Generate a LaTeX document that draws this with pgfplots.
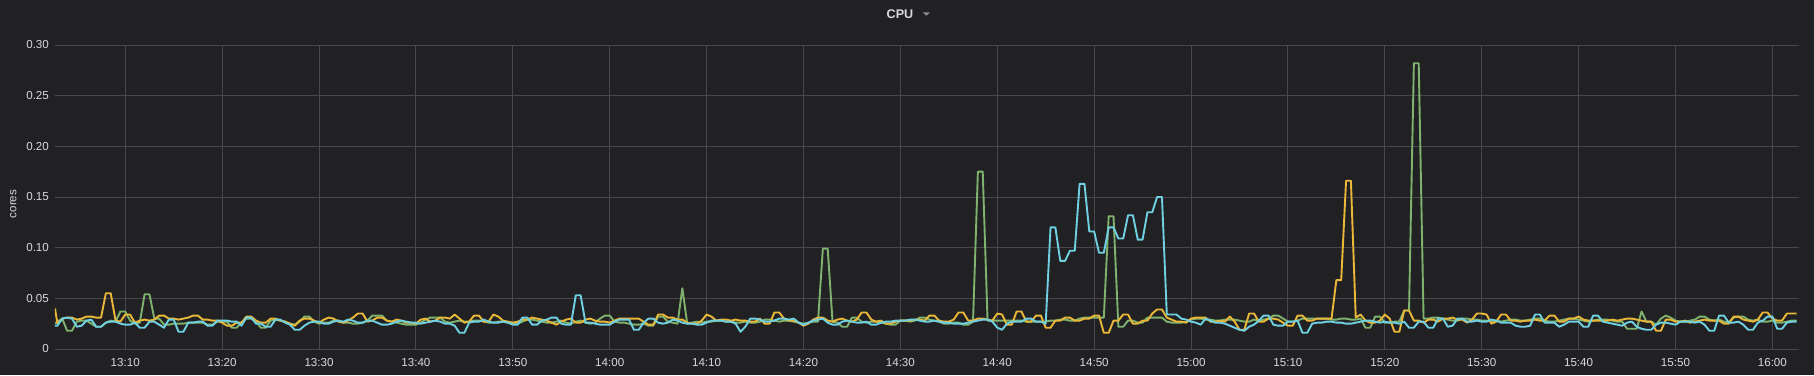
\documentclass[border=0pt]{standalone}
\usepackage{fontspec}
\setmainfont{Liberation Sans}
\usepackage{pgfplots}
\usepackage{pgfplotstable}
\pgfplotsset{compat=1.18}
\definecolor{bg}{RGB}{33,33,36}
\definecolor{gridc}{RGB}{72,72,76}
\definecolor{txt}{RGB}{216,217,218}
\definecolor{arrowc}{RGB}{142,142,142}
\definecolor{cg}{HTML}{7EB26D}
\definecolor{cy}{HTML}{EAB839}
\definecolor{cb}{HTML}{6ED0E0}

% t = minutes after 13:00; g = green, y = yellow, b = blue series (cores)
\pgfplotstableread{
t g y b
2.75 .025 .040 .023
3.0 .027 .025 .023
3.5 .030 .030 .030
4.0 .018 .031 .031
4.5 .018 .031 .030
5.0 .027 .029 .022
5.5 .028 .030 .023
6.0 .028 .032 .028
6.5 .025 .032 .029
7.0 .022 .031 .022
7.5 .022 .031 .022
8.0 .026 .055 .026
8.5 .028 .055 .027
9.0 .027 .028 .027
9.5 .037 .027 .025
10.0 .037 .034 .024
10.5 .028 .034 .024
11.0 .025 .026 .026
11.5 .026 .028 .021
12.0 .054 .029 .021
12.5 .054 .028 .027
13.0 .030 .029 .027
13.5 .030 .033 .024
14.0 .024 .033 .021
14.5 .024 .030 .029
15.0 .025 .030 .029
15.5 .025 .029 .017
16.0 .025 .030 .017
16.5 .026 .031 .026
17.0 .026 .033 .026
17.5 .026 .033 .027
18.0 .026 .029 .027
18.5 .024 .029 .023
19.0 .024 .028 .023
19.5 .027 .028 .028
20.0 .027 .026 .028
20.5 .027 .023 .028
21.0 .021 .023 .027
21.5 .021 .026 .027
22.0 .026 .026 .023
22.5 .030 .032 .031
23.0 .030 .032 .031
23.5 .027 .028 .025
24.0 .021 .026 .025
24.5 .021 .026 .022
25.0 .028 .030 .022
25.5 .029 .030 .029
26.0 .028 .028 .029
26.5 .027 .027 .026
27.0 .025 .025 .024
27.5 .024 .023 .019
28.0 .027 .028 .019
28.5 .032 .030 .023
29.0 .032 .030 .026
29.5 .027 .028 .027
30.0 .025 .026 .027
30.5 .026 .029 .025
31.0 .026 .031 .025
31.5 .028 .030 .027
32.0 .028 .027 .028
32.5 .026 .026 .027
33.0 .026 .028 .029
33.5 .025 .031 .028
34.0 .025 .035 .026
34.5 .026 .035 .026
35.0 .028 .027 .028
35.5 .033 .028 .028
36.0 .033 .031 .026
36.5 .033 .031 .024
37.0 .028 .028 .024
37.5 .027 .027 .025
38.0 .026 .029 .027
38.5 .025 .028 .028
39.0 .024 .026 .027
39.5 .024 .026 .026
40.0 .024 .025 .026
40.5 .026 .029 .025
41.0 .029 .030 .026
41.5 .031 .027 .027
42.0 .031 .028 .028
42.5 .031 .031 .027
43.0 .027 .031 .025
43.5 .026 .030 .025
44.0 .027 .034 .023
44.5 .028 .030 .016
45.0 .027 .026 .016
45.5 .027 .027 .026
46.0 .028 .033 .027
46.5 .028 .033 .027
47.0 .027 .027 .029
47.5 .026 .027 .027
48.0 .026 .034 .026
48.5 .027 .032 .026
49.0 .027 .028 .027
49.5 .026 .027 .026
50.0 .025 .026 .024
50.5 .025 .027 .024
51.0 .027 .029 .031
51.5 .029 .029 .031
52.0 .029 .031 .024
52.5 .028 .030 .024
53.0 .027 .029 .028
53.5 .026 .028 .029
54.0 .026 .026 .031
54.5 .027 .024 .031
55.0 .028 .027 .025
55.5 .026 .029 .024
56.0 .025 .030 .024
56.5 .027 .026 .053
57.0 .028 .026 .053
57.5 .026 .029 .026
58.0 .025 .030 .026
58.5 .026 .028 .025
59.0 .030 .027 .024
59.5 .033 .027 .024
60.0 .033 .026 .024
60.5 .027 .028 .027
61.0 .026 .030 .029
61.5 .026 .030 .029
62.0 .025 .030 .029
62.5 .024 .030 .019
63.0 .024 .030 .019
63.5 .025 .027 .026
64.0 .023 .024 .030
64.5 .023 .024 .030
65.0 .032 .034 .026
65.5 .032 .034 .025
66.0 .027 .031 .026
66.5 .026 .031 .029
67.0 .025 .029 .028
67.5 .060 .029 .026
68.0 .025 .026 .025
68.5 .026 .025 .025
69.0 .027 .025 .024
69.5 .026 .028 .024
70.0 .027 .034 .026
70.5 .027 .032 .028
71.0 .028 .028 .028
71.5 .028 .029 .028
72.0 .027 .029 .027
72.5 .027 .028 .027
73.0 .026 .029 .025
73.5 .026 .028 .017
74.0 .027 .028 .022
74.5 .026 .027 .030
75.0 .026 .027 .030
75.5 .027 .030 .029
76.0 .029 .025 .027
76.5 .029 .025 .027
77.0 .028 .036 .028
77.5 .027 .036 .030
78.0 .028 .030 .030
78.5 .028 .028 .029
79.0 .027 .028 .030
79.5 .026 .026 .026
80.0 .025 .023 .024
80.5 .026 .025 .026
81.0 .027 .029 .028
81.5 .027 .031 .029
82.0 .099 .031 .030
82.5 .099 .028 .026
83.0 .027 .027 .024
83.5 .026 .029 .024
84.0 .022 .030 .027
84.5 .022 .028 .028
85.0 .031 .027 .027
85.5 .031 .029 .026
86.0 .027 .036 .026
86.5 .026 .036 .027
87.0 .027 .029 .024
87.5 .027 .027 .024
88.0 .026 .028 .026
88.5 .025 .025 .027
89.0 .024 .025 .027
89.5 .024 .027 .028
90.0 .028 .028 .028
90.5 .028 .028 .028
91.0 .027 .028 .029
91.5 .028 .029 .029
92.0 .031 .029 .028
92.5 .031 .028 .027
93.0 .029 .033 .027
93.5 .028 .033 .028
94.0 .027 .028 .027
94.5 .025 .027 .026
95.0 .025 .027 .026
95.5 .026 .029 .025
96.0 .026 .036 .025
96.5 .024 .036 .025
97.0 .024 .028 .026
97.5 .027 .028 .027
98.0 .175 .030 .028
98.5 .175 .030 .029
99.0 .028 .029 .029
99.5 .028 .028 .027
100.0 .028 .035 .021
100.5 .028 .034 .019
101.0 .028 .024 .025
101.5 .028 .024 .027
102.0 .028 .037 .027
102.5 .028 .037 .027
103.0 .027 .027 .030
103.5 .027 .027 .030
104.0 .027 .033 .027
104.5 .027 .033 .027
105.0 .027 .021 .025
105.5 .028 .021 .120
106.0 .028 .028 .120
106.5 .029 .028 .087
107.0 .029 .031 .087
107.5 .028 .031 .097
108.0 .028 .028 .097
108.5 .030 .028 .163
109.0 .031 .030 .163
109.5 .031 .030 .116
110.0 .031 .033 .116
110.5 .031 .033 .095
111.0 .031 .016 .095
111.5 .131 .016 .120
112.0 .131 .028 .120
112.5 .022 .028 .109
113.0 .022 .034 .109
113.5 .028 .034 .132
114.0 .028 .025 .132
114.5 .026 .025 .108
115.0 .026 .028 .108
115.5 .031 .028 .135
116.0 .031 .035 .135
116.5 .031 .039 .150
117.0 .031 .039 .150
117.5 .027 .031 .034
118.0 .026 .029 .034
118.5 .026 .027 .034
119.0 .026 .027 .030
119.5 .027 .026 .029
120.0 .029 .030 .027
120.5 .030 .031 .026
121.0 .030 .031 .024
121.5 .029 .031 .030
122.0 .029 .027 .028
122.5 .028 .027 .026
123.0 .028 .028 .026
123.5 .029 .027 .025
124.0 .029 .032 .023
124.5 .029 .027 .021
125.0 .028 .019 .019
125.5 .027 .019 .018
126.0 .027 .035 .022
126.5 .029 .035 .024
127.0 .028 .027 .028
127.5 .029 .027 .033
128.0 .030 .030 .033
128.5 .033 .030 .024
129.0 .033 .029 .023
129.5 .030 .026 .023
130.0 .027 .023 .027
130.5 .027 .023 .027
131.0 .028 .033 .028
131.5 .030 .033 .016
132.0 .030 .028 .016
132.5 .030 .028 .025
133.0 .030 .030 .026
133.5 .030 .030 .026
134.0 .030 .030 .027
134.5 .029 .030 .027
135.0 .029 .068 .026
135.5 .030 .068 .026
136.0 .030 .166 .025
136.5 .029 .166 .025
137.0 .029 .031 .026
137.5 .030 .034 .027
138.0 .021 .028 .028
138.5 .021 .026 .028
139.0 .032 .026 .027
139.5 .032 .028 .026
140.0 .026 .034 .027
140.5 .026 .030 .026
141.0 .027 .017 .026
141.5 .027 .017 .025
142.0 .038 .038 .027
142.5 .038 .038 .021
143.0 .282 .028 .021
143.5 .282 .028 .027
144.0 .030 .026 .027
144.5 .030 .029 .021
145.0 .031 .029 .021
145.5 .031 .027 .030
146.0 .030 .030 .030
146.5 .029 .030 .022
147.0 .028 .031 .023
147.5 .028 .029 .030
148.0 .030 .029 .030
148.5 .030 .026 .027
149.0 .029 .029 .027
149.5 .029 .035 .028
150.0 .028 .035 .027
150.5 .028 .034 .027
151.0 .027 .025 .029
151.5 .028 .027 .028
152.0 .027 .034 .026
152.5 .028 .034 .026
153.0 .029 .028 .026
153.5 .029 .028 .023
154.0 .028 .027 .022
154.5 .028 .028 .022
155.0 .029 .028 .023
155.5 .030 .029 .034
156.0 .030 .028 .034
156.5 .028 .028 .026
157.0 .027 .033 .026
157.5 .027 .033 .026
158.0 .028 .027 .022
158.5 .029 .027 .024
159.0 .030 .030 .027
159.5 .030 .030 .027
160.0 .029 .032 .027
160.5 .028 .029 .022
161.0 .027 .028 .022
161.5 .028 .028 .033
162.0 .029 .028 .033
162.5 .029 .028 .027
163.0 .029 .028 .026
163.5 .028 .029 .025
164.0 .027 .028 .024
164.5 .027 .029 .023
165.0 .020 .030 .026
165.5 .020 .030 .027
166.0 .020 .029 .022
166.5 .037 .028 .020
167.0 .027 .027 .019
167.5 .027 .027 .019
168.0 .024 .018 .024
168.5 .030 .018 .026
169.0 .033 .029 .026
169.5 .031 .029 .025
170.0 .028 .027 .024
170.5 .027 .027 .027
171.0 .027 .028 .027
171.5 .028 .026 .027
172.0 .029 .027 .026
172.5 .032 .028 .027
173.0 .032 .029 .024
173.5 .029 .028 .018
174.0 .028 .028 .018
174.5 .029 .028 .033
175.0 .027 .025 .033
175.5 .026 .025 .026
176.0 .031 .032 .026
176.5 .032 .032 .027
177.0 .032 .029 .024
177.5 .029 .028 .019
178.0 .028 .027 .019
178.5 .029 .029 .026
179.0 .027 .036 .028
179.5 .027 .036 .032
180.0 .028 .030 .032
180.5 .026 .028 .020
181.0 .026 .028 .020
181.5 .027 .035 .026
182.0 .028 .035 .027
182.5 .028 .035 .027
}\cpu

\begin{document}
\begin{tikzpicture}
\path[use as bounding box] (-27.5pt,-13pt) rectangle (879.5pt,174.5pt);
\fill[bg] (-27.5pt,-13pt) rectangle (879.5pt,174.5pt);
\begin{axis}[
  at={(0pt,0pt)}, anchor=south west,
  scale only axis, width=872pt, height=152pt,
  xmin=2.75, xmax=182.75, ymin=0, ymax=0.30,
  axis line style={draw=none},
  major tick length=0pt,
  grid=major,
  grid style={gridc, line width=0.5pt},
  xtick={10,20,30,40,50,60,70,80,90,100,110,120,130,140,150,160,170,180},
  xticklabels={13:10,13:20,13:30,13:40,13:50,14:00,14:10,14:20,14:30,14:40,14:50,15:00,15:10,15:20,15:30,15:40,15:50,16:00},
  ytick={0,0.05,0.1,0.15,0.2,0.25,0.3},
  yticklabels={0,0.05,0.10,0.15,0.20,0.25,0.30},
  tick label style={font=\fontsize{5.8}{7}\selectfont, text=txt},
  yticklabel style={anchor=east, inner sep=0pt, xshift=-2.85pt},
  xticklabel style={anchor=north, inner sep=0pt, yshift=-4.6pt},
  clip=true,
]
\addplot[cg, line width=0.95pt, line join=round, no markers] table[x=t, y=g] {\cpu};
\addplot[cy, line width=0.95pt, line join=round, no markers] table[x=t, y=y] {\cpu};
\addplot[cb, line width=0.95pt, line join=round, no markers] table[x=t, y=b] {\cpu};
\end{axis}
\node[text=txt, font=\fontsize{6.3}{7.5}\selectfont\bfseries, inner sep=0pt] at (422.5pt,167.4pt) {CPU};
\fill[arrowc] (433.85pt,168.35pt) -- (437.5pt,168.35pt) -- (435.7pt,166.65pt) -- cycle;
\node[text=txt, font=\fontsize{5.8}{7}\selectfont, rotate=90, inner sep=0pt] at (-20.85pt,72.5pt) {cores};
\end{tikzpicture}
\end{document}
